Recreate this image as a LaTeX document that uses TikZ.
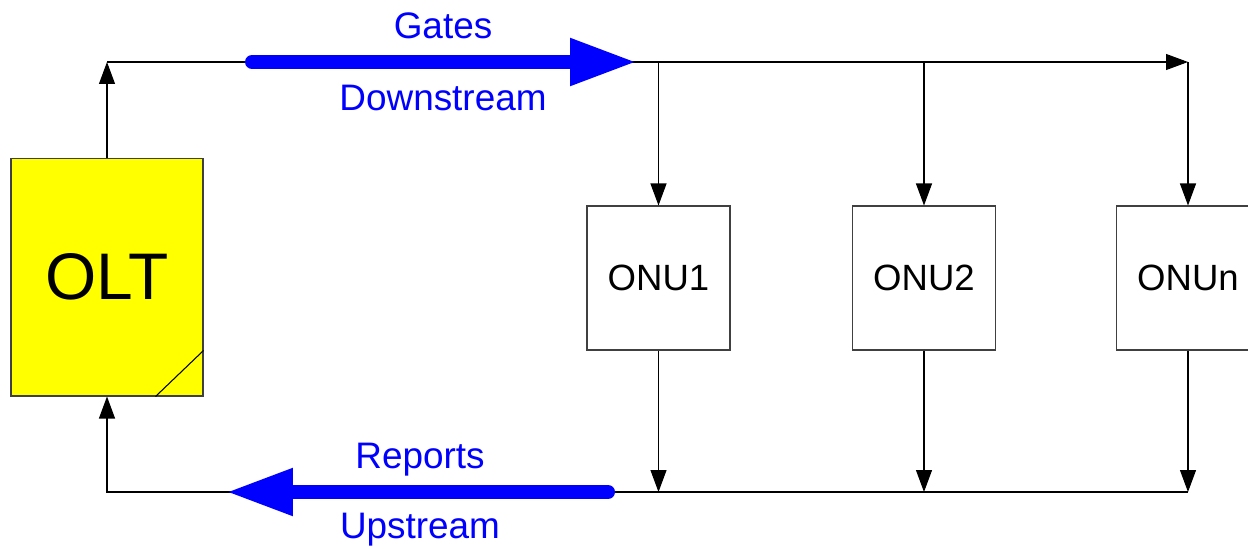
\documentclass[tikz,border=0pt]{standalone}
\usepackage{fontspec}
\setmainfont{Liberation Sans}
\usetikzlibrary{arrows.meta,positioning,calc}
\definecolor{oltyellow}{RGB}{255,255,0}

\begin{document}
\begin{tikzpicture}[x=0.02cm, y=-0.02cm, >={Triangle[length=0.44cm,width=0.32cm]}, line width=0.6pt,
        onu/.style={draw=black!75, minimum width=2.86cm, minimum height=2.88cm, font=\fontsize{20.8}{25}\selectfont},
        flow/.style={blue, line width=0.28cm, line cap=round, -{Triangle[length=1.34cm,width=0.88cm]}},
        lbl/.style={text=blue, anchor=base, inner sep=0pt, font=\fontsize{21}{25}\selectfont}]
        \useasboundingbox (0,0) rectangle (1248,548);

        % Nodes
        \node[draw=black!75, fill=oltyellow, minimum width=3.84cm, minimum height=4.76cm, font=\fontsize{37.5}{44}\selectfont] (olt) at (107,277) {OLT};
        \node[onu] (onu1) at (658.5,278) {ONU1};
        \node[onu] (onu2) at (924,278) {ONU2};
        \node[onu] (onun) at (1188,278) {ONUn};

        \coordinate (tl) at (107,62);
        \coordinate (tr) at (1188,62);
        \coordinate (bl) at (107,492);
        \coordinate (br) at (1188,492);

        % Edges
        \draw[->] (olt.north) -- (tl);
        \draw[->] (tl) -- (tr);
        \draw[->] (tr) -- (onun.north);
        \draw[->] (onu1 |- tl) -- (onu1.north);
        \draw[->] (onu2 |- tl) -- (onu2.north);
        \draw[->] (onu1.south) -- (onu1 |- bl);
        \draw[->] (onu2.south) -- (onu2 |- bl);
        \draw[->] (onun.south) -- (br);
        \draw[->] (br) -- (bl) -- (olt.south);
        \draw (olt.south east) ++(-48,0) -- ++(48,-46);

        % Flows
        \coordinate (g1) at (252,62);
        \coordinate (g2) at (637,62);
        \coordinate (r1) at (608,492);
        \coordinate (r2) at (226,492);
        \draw[flow] (g1) -- (g2);
        \draw[flow] (r1) -- (r2);
        \node[lbl] (gates) at (443,38) {Gates};
        \node[lbl] (down) at (443,110) {Downstream};
        \node[lbl] (reports) at (420,468) {Reports};
        \node[lbl] (up) at (420,538) {Upstream};
\end{tikzpicture}
\end{document}
